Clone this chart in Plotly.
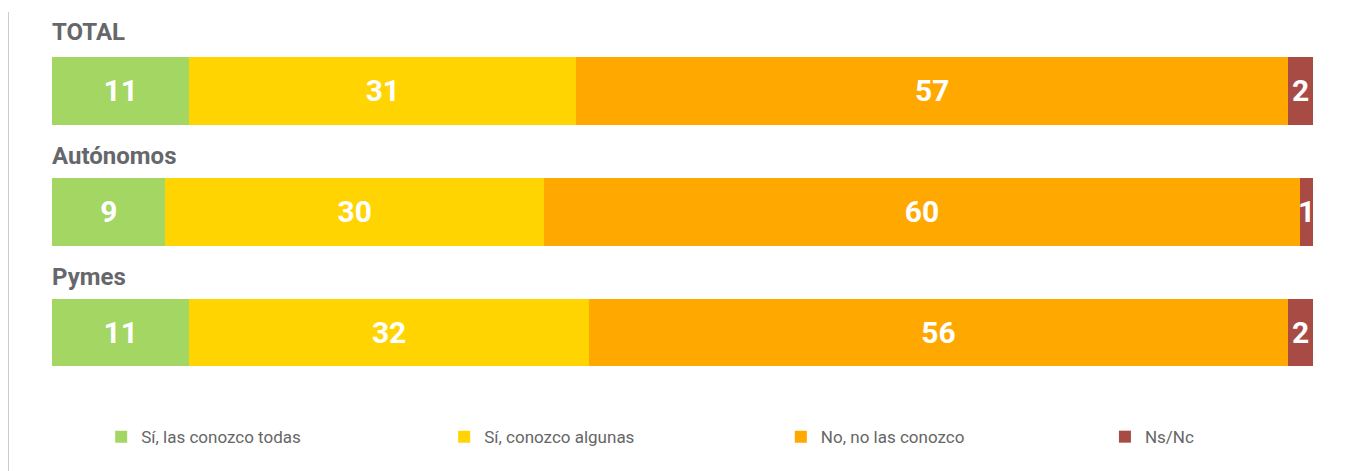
import plotly.graph_objects as go

groups = ["TOTAL", "Autónomos", "Pymes"]
series_names = ["Sí, las conozco todas", "Sí, conozco algunas", "No, no las conozco", "Ns/Nc"]
todas = [11, 9, 11]
algunas = [31, 30, 32]
no_conozco = [57, 60, 56]
nsnc = [2, 1, 2]
colors = ["#A3D663", "#FFD400", "#FFA800", "#A84B45"]

ypos = [2, 1, 0]
legend_ids = ["legend", "legend2", "legend3", "legend4"]
legend_x = [0.039, 0.311, 0.578, 0.835]

fig = go.Figure()
for name, vals, col, lg in zip(series_names, [todas, algunas, no_conozco, nsnc], colors, legend_ids):
    fig.add_trace(go.Bar(
        y=ypos, x=vals, orientation="h", name=name, legend=lg,
        marker=dict(color=col, line=dict(width=0)),
        width=0.56,
        text=[str(v) for v in vals], textposition="inside",
        insidetextanchor="middle", textangle=0,
        textfont=dict(color="white", size=30, family="Roboto", weight="bold"),
        hoverinfo="skip",
    ))

for g, y in zip(groups, ypos):
    fig.add_annotation(x=0, xref="paper", xanchor="left", xshift=-2,
                       y=y + 0.49 if g == "TOTAL" else y + 0.46, yref="y", yanchor="middle",
                       text="<b>%s</b>" % g, showarrow=False,
                       font=dict(family="Roboto", size=24, color="#66676B"))

fig.add_shape(type="line", xref="paper", yref="paper",
              x0=-0.0349, x1=-0.0349, y0=-0.25, y1=0.995,
              line=dict(color="#CCCCCC", width=2))

legend_common = dict(orientation="h", xanchor="left", y=-0.124, yanchor="middle",
                     font=dict(family="Roboto", size=17, color="#666666"),
                     bgcolor="rgba(0,0,0,0)")
layout_legends = {}
for lg, lx in zip(legend_ids, legend_x):
    layout_legends[lg] = dict(legend_common, x=lx)

fig.update_layout(
    barmode="stack", barnorm="percent",
    width=1354, height=471,
    margin=dict(l=44, r=49, t=2, b=89),
    plot_bgcolor="white", paper_bgcolor="white",
    uniformtext=dict(minsize=30, mode="show"),
    xaxis=dict(range=[0, 100], visible=False, fixedrange=True),
    yaxis=dict(range=[-0.476, 2.67], visible=False, fixedrange=True),
    showlegend=True,
    **layout_legends,
)

fig.write_html("out.html")
